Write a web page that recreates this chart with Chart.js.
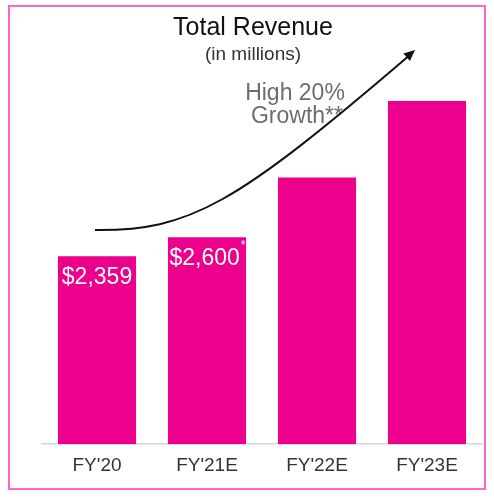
<!DOCTYPE html>
<html>
<head>
<meta charset="utf-8">
<script src="https://cdn.jsdelivr.net/npm/chart.js@4"></script>
<style>
  html, body { margin: 0; padding: 0; background: #fff; }
  #wrap { position: relative; width: 494px; height: 501px; }
</style>
</head>
<body>
<div id="wrap"><canvas id="revenueChart"></canvas></div>
<script>
const categories = ["FY'20", "FY'21E", "FY'22E", "FY'23E"];
const revenue = [2359, 2600, 3350, 4310];
const barLabels = ["$2,359", "$2,600", "", ""];
const labelMarks = ["", "*", "", ""];
const titleText = "Total Revenue";
const subtitleText = "(in millions)";
const growthLines = ["High 20%", "Growth**"];

const FONT = "'Liberation Sans', Arial, sans-serif";
const MAGENTA = "#ec008c";

// frame, titles, growth arrow and in-bar labels
const decorations = {
    id: "decorations",
    beforeDraw(chart) {
        const ctx = chart.ctx;
        ctx.save();
        ctx.fillStyle = "#fff";
        ctx.fillRect(0, 0, chart.width, chart.height);
        ctx.strokeStyle = "#ff66c8";
        ctx.lineWidth = 2;
        ctx.strokeRect(9, 6, 476, 483);
        ctx.restore();
    },
    afterDraw(chart) {
        const ctx = chart.ctx;
        const meta = chart.getDatasetMeta(0);
        ctx.save();

        // titles
        ctx.textAlign = "center";
        ctx.textBaseline = "alphabetic";
        ctx.fillStyle = "#111";
        ctx.font = `25px ${FONT}`;
        ctx.fillText(titleText, 253, 35);
        ctx.fillStyle = "#333";
        ctx.font = `19px ${FONT}`;
        ctx.fillText(subtitleText, 253, 60);

        // growth note
        ctx.fillStyle = "#6d6d6d";
        ctx.font = `23px ${FONT}`;
        ctx.fillText(growthLines[0], 295, 100);
        ctx.fillText(growthLines[1], 297, 123);

        // growth arrow
        const p0 = { x: 95, y: 230 }, c1 = { x: 190, y: 231 }, c2 = { x: 235, y: 205 }, p3 = { x: 415, y: 50 };
        ctx.strokeStyle = "#111";
        ctx.lineWidth = 2;
        ctx.beginPath();
        ctx.moveTo(p0.x, p0.y);
        ctx.bezierCurveTo(c1.x, c1.y, c2.x, c2.y, p3.x - 4, p3.y + 4);
        ctx.stroke();
        const ang = Math.atan2(p3.y - c2.y, p3.x - c2.x);
        ctx.fillStyle = "#111";
        ctx.beginPath();
        ctx.moveTo(p3.x, p3.y);
        ctx.lineTo(p3.x - 11 * Math.cos(ang) + 5 * Math.sin(ang), p3.y - 11 * Math.sin(ang) - 5 * Math.cos(ang));
        ctx.lineTo(p3.x - 11 * Math.cos(ang) - 5 * Math.sin(ang), p3.y - 11 * Math.sin(ang) + 5 * Math.cos(ang));
        ctx.closePath();
        ctx.fill();

        // labels inside bars
        ctx.fillStyle = "#fff";
        ctx.textBaseline = "middle";
        meta.data.forEach((bar, i) => {
            if (!barLabels[i]) return;
            ctx.font = `23px ${FONT}`;
            const w = ctx.measureText(barLabels[i]).width;
            ctx.font = `12px ${FONT}`;
            const mw = labelMarks[i] ? ctx.measureText(labelMarks[i]).width : 0;
            const left = bar.x - (w + mw) / 2;
            ctx.textAlign = "left";
            ctx.font = `23px ${FONT}`;
            ctx.fillText(barLabels[i], left, bar.y + 21);
            if (labelMarks[i]) {
                ctx.font = `12px ${FONT}`;
                ctx.fillText(labelMarks[i], left + w + 1, bar.y + 9);
            }
        });
        ctx.restore();
    }
};

new Chart(document.getElementById("revenueChart"), {
    type: "bar",
    data: {
        labels: categories,
        datasets: [{
            label: "Total Revenue",
            data: revenue,
            backgroundColor: MAGENTA,
            borderWidth: 0,
            barPercentage: 0.71,
            categoryPercentage: 1
        }]
    },
    options: {
        responsive: true,
        maintainAspectRatio: false,
        animation: false,
        layout: { padding: { left: 42, right: 12, top: 62, bottom: 14 } },
        plugins: {
            legend: { display: false },
            tooltip: { enabled: false }
        },
        scales: {
            x: {
                grid: { display: false, drawTicks: false },
                border: { display: true, color: "#d6d6d6", width: 1.5 },
                ticks: {
                    color: "#333",
                    padding: 10,
                    font: { family: FONT, size: 19 }
                }
            },
            y: {
                display: false,
                min: 0,
                max: 4800
            }
        }
    },
    plugins: [decorations]
});
</script>
</body>
</html>
